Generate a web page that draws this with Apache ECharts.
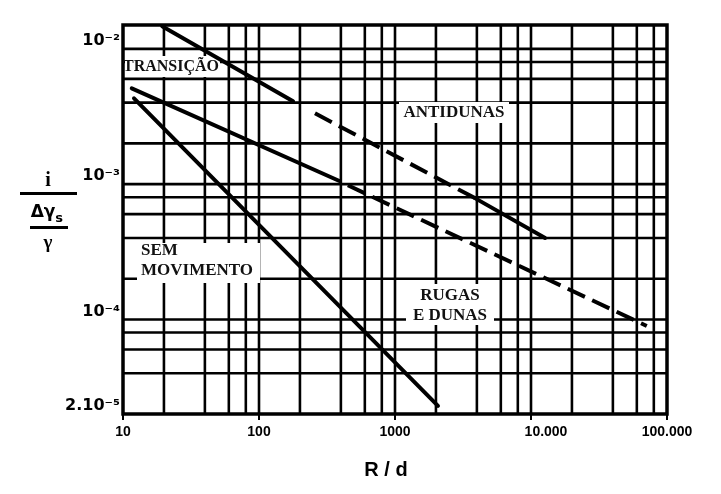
<!DOCTYPE html>
<html><head><meta charset="utf-8">
<script src="https://cdn.jsdelivr.net/npm/echarts@6/dist/echarts.min.js"></script>
<style>html,body{margin:0;padding:0;background:#fff}#c{width:721px;height:494px}</style>
</head><body><div id="c"></div>
<script>
// ---- data ----
const xGridValues = [20, 40, 60, 80, 100, 200, 400, 600, 800, 1000, 2000, 4000, 6000, 8000, 10000, 20000, 40000, 60000, 80000];
const yGridValues = [4e-5, 6e-5, 8e-5, 1e-4, 2e-4, 4e-4, 6e-4, 8e-4, 1e-3, 2e-3, 4e-3, 6e-3, 8e-3, 1e-2];
const xTickValues = [10, 100, 1000, 10000, 100000];
const xTickLabels = ['10', '100', '1000', '10.000', '100.000'];
const yTickValues = [2e-5, 1e-4, 1e-3, 1e-2];
const yTickLabels = ['2.10⁻⁵', '10⁻⁴', '10⁻³', '10⁻²'];
const xMin = 10, xMax = 100000, yMin = 2e-5, yMax = 0.015;

// boundary lines [R/d, i/(Δγs/γ)]
const transUpperSolid = [[19.4, 0.0147], [178, 0.0041]];
const transUpperDashed = [[258, 0.00334], [3870, 0.000788]];
const antidunasSolid = [[3870, 0.000788], [12700, 0.0004]];
const rugasSolid = [[11.6, 0.0051], [394, 0.00105]];
const rugasDashed = [[450, 0.00098], [71000, 0.0000895]];
const semMovSolid = [[12.05, 0.00431], [2070, 0.000023]];

// ---- chart ----
const chart = echarts.init(document.getElementById('c'));
function matchIdx(arr, v) {
  for (let i = 0; i < arr.length; i++) {
    if (Math.abs(Math.log10(arr[i]) - Math.log10(v)) < 0.01) return i;
  }
  return -1;
}
const solidStyle = { color: '#000', width: 4, type: 'solid', cap: 'round' };
const dashStyle = { color: '#000', width: 4, type: [19, 8] };
function lineSeries(data, style) {
  return { type: 'line', data: data, symbol: 'none', lineStyle: style, z: 5, silent: true, animation: false };
}
// grid lines of the log paper, as broken polylines through the axes' scales
const vGridData = [];
xGridValues.forEach(v => { vGridData.push([v, yMin], [v, yMax], '-'); });
const hGridData = [];
yGridValues.forEach(v => { hGridData.push([xMin, v], [xMax, v], '-'); });
const gridStyle = { color: '#000', width: 2.6, type: 'solid' };
const gridSeries = d => ({ type: 'line', data: d, symbol: 'none', connectNulls: false, lineStyle: gridStyle, z: 1, silent: true, animation: false });

const labelFont = 'bold 17px "Liberation Serif"';
chart.setOption({
  animation: false,
  backgroundColor: '#fff',
  grid: { left: 123, top: 25, width: 544, height: 389, show: true, borderColor: '#000', borderWidth: 3.5, backgroundColor: 'transparent' },
  xAxis: {
    type: 'log', logBase: 10, min: xMin, max: xMax,
    splitLine: { show: false }, axisLine: { show: false },
    axisTick: { show: true, length: 6, lineStyle: { color: '#000', width: 2 } },
    axisLabel: {
      margin: 11, color: '#000', fontFamily: 'Liberation Sans', fontWeight: 'bold', fontSize: 14,
      formatter: v => {
        const i = matchIdx(xTickValues, v);
        if (i < 0) return '';
        return i === 3 ? '{s|' + xTickLabels[i] + '}' : xTickLabels[i];
      },
      rich: { s: { fontFamily: 'Liberation Sans', fontWeight: 'bold', fontSize: 14, color: '#000', padding: [0, 0, 0, 30] } }
    },
    name: 'R / d', nameLocation: 'middle', nameGap: 46,
    nameTextStyle: { color: '#000', fontFamily: 'Liberation Sans', fontWeight: 'bold', fontSize: 20, padding: [0, 18, 0, 0] }
  },
  yAxis: {
    type: 'log', logBase: 10, min: yMin, max: yMax,
    splitLine: { show: false }, axisLine: { show: false }, axisTick: { show: false },
    axisLabel: {
      margin: 3, color: '#000', fontFamily: 'DejaVu Sans', fontWeight: 'bold', fontSize: 16,
      verticalAlign: 'bottom',
      formatter: v => { const i = matchIdx(yTickValues, v); return i < 0 ? '' : yTickLabels[i]; }
    }
  },
  series: [
    gridSeries(vGridData),
    gridSeries(hGridData),
    lineSeries(transUpperSolid, solidStyle),
    lineSeries(transUpperDashed, dashStyle),
    lineSeries(antidunasSolid, solidStyle),
    lineSeries(rugasSolid, solidStyle),
    lineSeries(rugasDashed, dashStyle),
    lineSeries(semMovSolid, solidStyle)
  ],
  graphic: [
    // region label boxes (above the paper grid, below the boundary lines)
    { type: 'rect', z: 3, shape: { x: 125, y: 56, width: 95, height: 21 }, style: { fill: '#fff' } },
    { type: 'text', z: 4, style: { text: 'TRANSIÇÃO', x: 123, y: 67, font: 'bold 16px "Liberation Serif"', fill: '#111', align: 'left', verticalAlign: 'middle' } },
    { type: 'rect', z: 3, shape: { x: 399, y: 102, width: 110, height: 21 }, style: { fill: '#fff' } },
    { type: 'text', z: 4, style: { text: 'ANTIDUNAS', x: 454, y: 113, font: labelFont, fill: '#111', align: 'center', verticalAlign: 'middle' } },
    { type: 'rect', z: 3, shape: { x: 137, y: 243, width: 123, height: 40 }, style: { fill: '#fff' } },
    { type: 'text', z: 4, style: { text: 'SEM\nMOVIMENTO', x: 141, y: 261, font: labelFont, lineHeight: 20, fill: '#111', align: 'left', verticalAlign: 'middle' } },
    { type: 'rect', z: 3, shape: { x: 406, y: 284, width: 88, height: 41 }, style: { fill: '#fff' } },
    { type: 'text', z: 4, style: { text: 'RUGAS\nE DUNAS', x: 450, y: 306, font: labelFont, lineHeight: 20, fill: '#111', align: 'center', verticalAlign: 'middle' } },
    // y-axis title as fraction
    { type: 'text', z: 101, style: { text: 'i', x: 48, y: 181, font: 'bold 20px "Liberation Serif"', fill: '#000', align: 'center', verticalAlign: 'middle' } },
    { type: 'rect', z: 101, shape: { x: 20, y: 192, width: 57, height: 3 }, style: { fill: '#000' } },
    { type: 'text', z: 101, style: { text: 'Δγ', x: 43, y: 213, font: 'bold 17px "DejaVu Sans"', fill: '#000', align: 'center', verticalAlign: 'middle' } },
    { type: 'text', z: 101, style: { text: 's', x: 59, y: 219, font: 'bold 13px "DejaVu Sans"', fill: '#000', align: 'center', verticalAlign: 'middle' } },
    { type: 'rect', z: 101, shape: { x: 30, y: 226, width: 38, height: 3 }, style: { fill: '#000' } },
    { type: 'text', z: 101, style: { text: 'γ', x: 48, y: 243, font: 'bold 19px "Liberation Serif"', fill: '#000', align: 'center', verticalAlign: 'middle' } }
  ]
});
</script>
</body></html>
